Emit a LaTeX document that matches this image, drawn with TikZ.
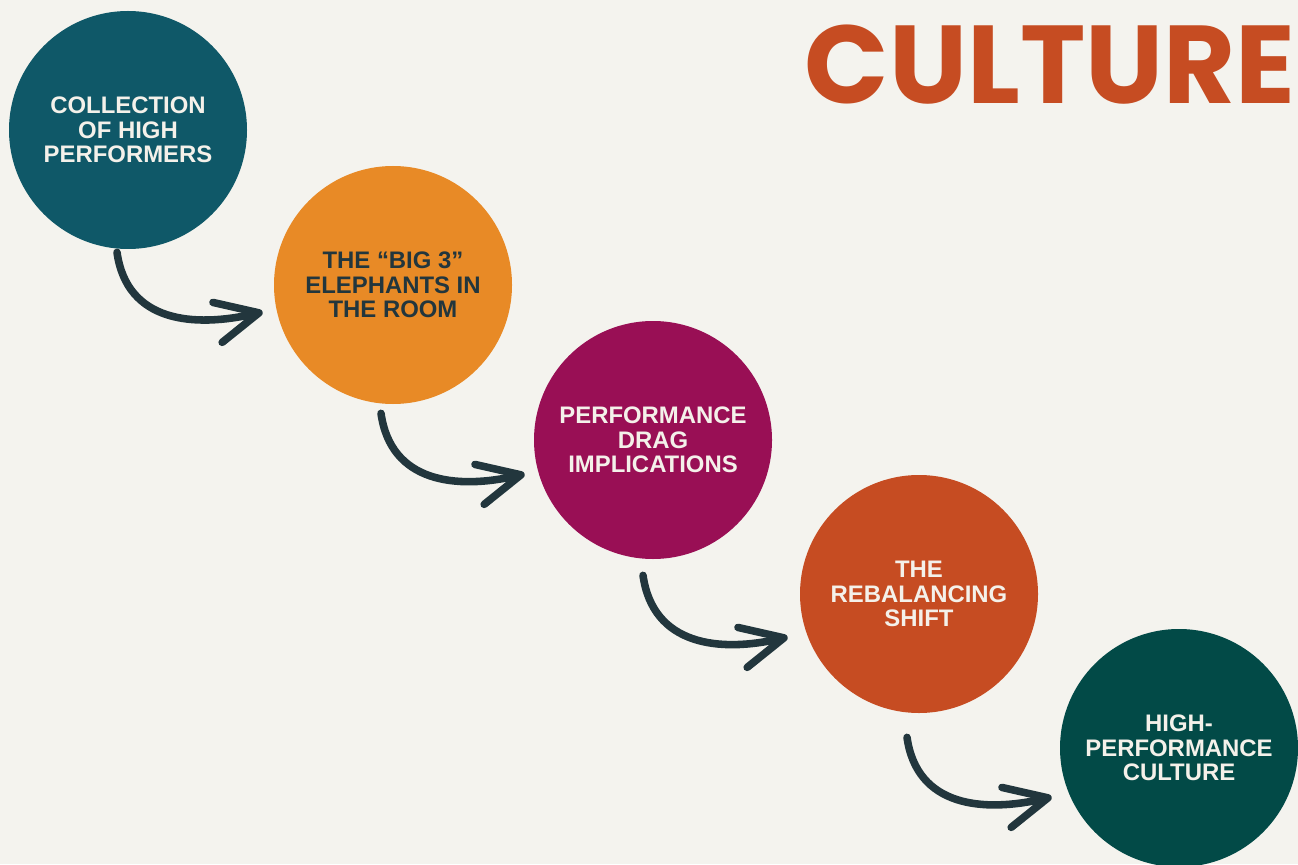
\documentclass[tikz,border=0pt]{standalone}
\usepackage{fontspec}
\usetikzlibrary{arrows.meta}

\newfontfamily\stagefont{Liberation Sans}
\newfontfamily\titlefont{Poppins}

\definecolor{paper}{HTML}{F4F3EE}
\definecolor{cream}{HTML}{F4F1EA}
\definecolor{ink}{HTML}{22363D}
\definecolor{teal}{HTML}{0F5868}
\definecolor{amber}{HTML}{E88A26}
\definecolor{plum}{HTML}{990F55}
\definecolor{rust}{HTML}{C64C22}
\definecolor{pine}{HTML}{024A47}

\tikzset{
  stage/.style={circle, minimum size=4.76cm, inner sep=0pt, align=center,
    text=cream, font=\stagefont\bfseries\fontsize{13.6}{13.8}\selectfont},
  flow/.style={draw=ink, line width=4.3pt, line cap=round, looseness=1.15,
    -{Straight Barb[round,length=0.85cm,width=0.82cm]}}
}

\begin{document}
\begin{tikzpicture}

	%paper
	\fill[paper] (0,0) rectangle (25.96,17.28);
	\useasboundingbox (0,0) rectangle (25.96,17.28);

	%title
	\node[anchor=east, inner sep=0pt, text=rust, font=\titlefont\bfseries\fontsize{63}{63}\selectfont] (title) at (25.92,15.98) {CULTURE};

	%the five stages
	\node[stage, fill=teal] (collection) at (2.56,14.68) {COLLECTION\\OF HIGH\\PERFORMERS};
	\node[stage, fill=amber, text=ink] (elephants) at (7.86,11.58) {THE “BIG 3”\\ELEPHANTS IN\\THE ROOM};
	\node[stage, fill=plum] (drag) at (13.06,8.48) {PERFORMANCE\\DRAG\\IMPLICATIONS};
	\node[stage, fill=rust] (shift) at (18.38,5.40) {THE\\REBALANCING\\SHIFT};
	\node[stage, fill=pine] (culture) at (23.58,2.32) {HIGH-\\PERFORMANCE\\CULTURE};

	%hand drawn arrows
	\draw[flow] ([xshift=-0.22cm,yshift=-0.06cm]collection.south) to[out=-82,in=193] ([xshift=-0.22cm,yshift=-0.54cm]elephants.west);
	\draw[flow] ([xshift=-0.24cm,yshift=-0.18cm]elephants.south) to[out=-82,in=193] ([xshift=-0.18cm,yshift=-0.68cm]drag.west);
	\draw[flow] ([xshift=-0.20cm,yshift=-0.32cm]drag.south) to[out=-82,in=193] ([xshift=-0.24cm,yshift=-0.86cm]shift.west);
	\draw[flow] ([xshift=-0.24cm,yshift=-0.48cm]shift.south) to[out=-82,in=193] ([xshift=-0.16cm,yshift=-0.98cm]culture.west);

\end{tikzpicture}
\end{document}
